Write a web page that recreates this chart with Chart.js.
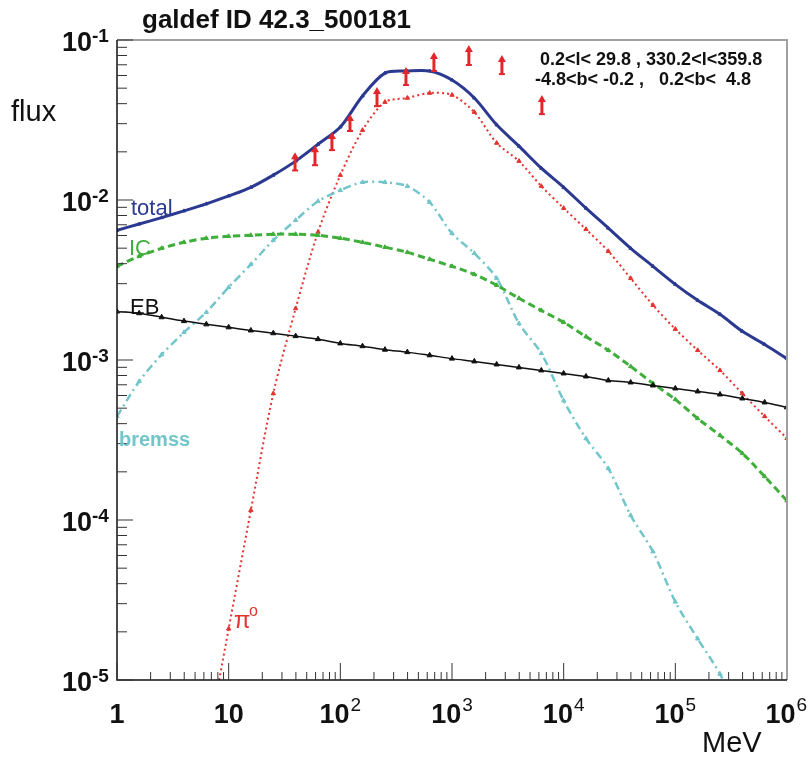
<!DOCTYPE html>
<html>
<head>
<meta charset="utf-8">
<script src="https://cdn.jsdelivr.net/npm/chart.js@4.4.1/dist/chart.umd.min.js"></script>
<style>
  body { margin: 0; background: #fff; }
  canvas { display: block; }
</style>
</head>
<body>
<canvas id="spectre" width="809" height="760"></canvas>
<script>
// energies (MeV), pas de 0.2 decade
var energie = [1, 1.58, 2.51, 3.98, 6.31, 10, 15.8, 25.1, 39.8, 63.1, 100, 158, 251, 398, 631, 1000,
  1585, 2512, 3981, 6310, 10000, 15850, 25120, 39810, 63100, 100000, 158500, 251200, 398100, 631000, 1000000];

var total = [6.47e-3, 7.08e-3, 7.76e-3, 8.55e-3, 9.46e-3, 1.06e-2, 1.20e-2, 1.43e-2, 1.75e-2, 2.23e-2, 2.86e-2,
  4.47e-2, 6.21e-2, 6.40e-2, 6.40e-2, 5.62e-2, 4.34e-2, 2.95e-2, 2.17e-2, 1.58e-2, 1.20e-2, 8.89e-3, 6.67e-3,
  4.99e-3, 3.85e-3, 2.97e-3, 2.36e-3, 1.93e-3, 1.51e-3, 1.25e-3, 1.02e-3];

var pion = [null, null, null, null, 3.7e-6, 2.09e-5, 1.15e-4, 6.18e-4, 2.10e-3, 6.3e-3, 1.43e-2, 2.73e-2,
  4.09e-2, 4.34e-2, 4.66e-2, 4.53e-2, 3.54e-2, 2.27e-2, 1.75e-2, 1.22e-2, 8.89e-3, 6.56e-3, 4.78e-3, 3.24e-3,
  2.20e-3, 1.56e-3, 1.15e-3, 8.61e-4, 6.18e-4, 4.44e-4, 3.24e-4];

var ic = [3.85e-3, 4.45e-3, 4.99e-3, 5.44e-3, 5.77e-3, 5.93e-3, 6.02e-3, 6.11e-3, 6.11e-3, 6.02e-3, 5.77e-3,
  5.44e-3, 5.07e-3, 4.71e-3, 4.26e-3, 3.85e-3, 3.43e-3, 2.93e-3, 2.43e-3, 2.04e-3, 1.72e-3, 1.40e-3, 1.15e-3,
  9.12e-4, 7.14e-4, 5.67e-4, 4.31e-4, 3.38e-4, 2.61e-4, 1.87e-4, 1.32e-4];

var eb = [2.01e-3, 1.96e-3, 1.85e-3, 1.75e-3, 1.67e-3, 1.60e-3, 1.53e-3, 1.47e-3, 1.41e-3, 1.35e-3, 1.27e-3,
  1.22e-3, 1.16e-3, 1.12e-3, 1.07e-3, 1.02e-3, 9.80e-4, 9.38e-4, 8.99e-4, 8.61e-4, 8.24e-4, 7.89e-4, 7.45e-4,
  7.24e-4, 6.93e-4, 6.64e-4, 6.36e-4, 6.09e-4, 5.75e-4, 5.43e-4, 5.06e-4];

var bremss = [4.44e-4, 7.35e-4, 1.08e-3, 1.49e-3, 1.99e-3, 2.85e-3, 3.96e-3, 5.60e-3, 7.48e-3, 9.82e-3, 1.15e-2,
  1.29e-2, 1.29e-2, 1.22e-2, 9.68e-3, 6.19e-3, 4.65e-3, 3.24e-3, 1.69e-3, 1.10e-3, 5.58e-4, 3.23e-4, 2.10e-4,
  1.07e-4, 6.34e-5, 3.08e-5, 1.81e-5, 1.09e-5, 5.6e-6, null, null];

// points de donnees (barres d'erreur)
var errE = [39.3, 59.3, 84.1, 122, 213, 387, 689, 1416, 2799, 6383];
var errBas = [1.53e-2, 1.65e-2, 2.05e-2, 2.70e-2, 3.86e-2, 5.23e-2, 6.40e-2, 6.98e-2, 6.12e-2, 3.44e-2];
var errHaut = [1.96e-2, 2.17e-2, 2.62e-2, 3.40e-2, 5.01e-2, 6.68e-2, 8.30e-2, 9.17e-2, 7.94e-2, 4.47e-2];

// graduations
var xTicks = [1, 10, 100, 1e3, 1e4, 1e5, 1e6];
var xTickBase = ["1", "10", "10", "10", "10", "10", "10"];
var xTickExp = ["", "", "2", "3", "4", "5", "6"];
var yTicks = [1e-1, 1e-2, 1e-3, 1e-4, 1e-5];
var yTickExp = ["-1", "-2", "-3", "-4", "-5"];

function serie(valeurs) {
  return energie.map(function(e, i) { return { x: e, y: valeurs[i] }; });
}

function courbe(label, valeurs, couleur, largeur, tirets, rayon) {
  return {
    label: label,
    data: serie(valeurs),
    borderColor: couleur,
    backgroundColor: couleur,
    borderWidth: largeur,
    borderDash: tirets,
    pointStyle: "triangle",
    pointRadius: rayon,
    pointBorderWidth: 1,
    pointBorderColor: couleur,
    pointBackgroundColor: couleur,
    tension: 0.3,
    spanGaps: false,
    fill: false
  };
}

var police = "'Liberation Sans', Arial, sans-serif";

var cadreRoot = {
  id: "cadreRoot",
  afterDraw: function(chart) {
    var ctx = chart.ctx;
    var a = chart.chartArea;
    var sx = chart.scales.x, sy = chart.scales.y;
    ctx.save();

    // cadre gris haut et droite
    ctx.strokeStyle = "#a0a0a0";
    ctx.lineWidth = 2;
    ctx.beginPath();
    ctx.moveTo(a.left, a.top);
    ctx.lineTo(a.right, a.top);
    ctx.lineTo(a.right, a.bottom);
    ctx.stroke();

    // axes noirs
    ctx.strokeStyle = "#111";
    ctx.lineWidth = 1.5;
    ctx.beginPath();
    ctx.moveTo(a.left, a.top);
    ctx.lineTo(a.left, a.bottom);
    ctx.lineTo(a.right, a.bottom);
    ctx.stroke();

    // petites graduations internes
    ctx.lineWidth = 1;
    ctx.strokeStyle = "#333";
    for (var d = 0; d < 6; d++) {
      for (var m = 1; m <= 9; m++) {
        var px = sx.getPixelForValue(m * Math.pow(10, d));
        var h = m === 1 ? 17 : 8;
        ctx.beginPath();
        ctx.moveTo(px, a.bottom);
        ctx.lineTo(px, a.bottom - h);
        ctx.stroke();
      }
    }
    for (var d2 = -5; d2 <= -1; d2++) {
      for (var m2 = 1; m2 <= 9; m2++) {
        var v = m2 * Math.pow(10, d2);
        if (v > 0.1000001) continue;
        var py = sy.getPixelForValue(v);
        var w = m2 === 1 ? 16 : 10;
        ctx.beginPath();
        ctx.moveTo(a.left, py);
        ctx.lineTo(a.left + w, py);
        ctx.stroke();
      }
    }

    // etiquettes axe x (centrees avec l'exposant)
    ctx.fillStyle = "#111";
    ctx.textBaseline = "alphabetic";
    ctx.textAlign = "left";
    xTicks.forEach(function(t, i) {
      var px = sx.getPixelForValue(t);
      ctx.font = "bold 27px " + police;
      var wb = ctx.measureText(xTickBase[i]).width;
      ctx.font = "19px " + police;
      var we = xTickExp[i] ? ctx.measureText(xTickExp[i]).width + 1 : 0;
      var x0 = px - (wb + we) / 2;
      if (x0 + wb + we > 807) x0 = 807 - wb - we;
      ctx.font = "bold 27px " + police;
      ctx.fillText(xTickBase[i], x0, 723);
      if (xTickExp[i]) {
        ctx.font = "19px " + police;
        ctx.fillText(xTickExp[i], x0 + wb + 1, 711);
      }
    });

    // etiquettes axe y
    yTicks.forEach(function(t, i) {
      var py = sy.getPixelForValue(t);
      ctx.font = "bold 19px " + police;
      ctx.textAlign = "left";
      ctx.fillText(yTickExp[i], 92, py + 2);
      ctx.font = "bold 27px " + police;
      ctx.textAlign = "right";
      ctx.fillText("10", 92, py + 11);
    });

    // titres
    ctx.textAlign = "left";
    ctx.font = "bold 26px " + police;
    ctx.fillText("galdef ID 42.3_500181", 142, 28);
    ctx.font = "29px " + police;
    ctx.fillText("flux", 11, 121);
    ctx.fillText("MeV", 702, 752);

    // legende regions
    ctx.font = "bold 18px " + police;
    ctx.fillText("0.2<l< 29.8 , 330.2<l<359.8", 540, 65);
    ctx.fillText("-4.8<b< -0.2 ,   0.2<b<  4.8", 535, 85);

    // noms des composantes
    ctx.font = "22px " + police;
    ctx.fillStyle = "#2b3990";
    ctx.fillText("total", 131, 215);
    ctx.fillStyle = "#3fae3a";
    ctx.fillText("IC", 129, 255);
    ctx.fillStyle = "#111";
    ctx.fillText("EB", 130, 314);
    ctx.font = "bold 20px " + police;
    ctx.fillStyle = "#72c6c9";
    ctx.fillText("bremss", 119, 446);
    ctx.font = "24px " + police;
    ctx.fillStyle = "#e3342f";
    ctx.fillText("\u03c0", 234, 628);
    ctx.font = "16px " + police;
    ctx.fillText("o", 249, 616);

    // barres d'erreur avec fleche
    ctx.strokeStyle = "#e3262b";
    ctx.fillStyle = "#e3262b";
    errE.forEach(function(e, i) {
      var px = sx.getPixelForValue(e);
      var yb = sy.getPixelForValue(errBas[i]);
      var yh = sy.getPixelForValue(errHaut[i]);
      ctx.lineWidth = 3;
      ctx.beginPath();
      ctx.moveTo(px, yb);
      ctx.lineTo(px, yh + 4);
      ctx.stroke();
      ctx.lineWidth = 2;
      ctx.beginPath();
      ctx.moveTo(px - 3, yb);
      ctx.lineTo(px + 3, yb);
      ctx.stroke();
      ctx.beginPath();
      ctx.moveTo(px, yh - 1);
      ctx.lineTo(px - 4, yh + 6);
      ctx.lineTo(px + 4, yh + 6);
      ctx.closePath();
      ctx.fill();
    });
    ctx.restore();
  }
};

var ctx = document.getElementById("spectre").getContext("2d");
var spectre = new Chart(ctx, {
  type: "line",
  data: {
    datasets: [
      courbe("EB", eb, "#111111", 1.5, [], 3),
      courbe("IC", ic, "#3fae3a", 3, [7, 4], 2.5),
      courbe("bremss", bremss, "#72c6c9", 2.5, [8, 4, 2, 4], 2.5),
      courbe("pi0", pion, "#e3342f", 2, [2, 3], 2.5),
      courbe("total", total, "#2b3990", 3, [], 2)
    ]
  },
  options: {
    responsive: false,
    devicePixelRatio: 1,
    animation: false,
    layout: { padding: { top: 40, right: 22, left: 0, bottom: 0 } },
    plugins: {
      legend: { display: false },
      tooltip: { enabled: false },
      title: { display: false }
    },
    scales: {
      x: {
        type: "logarithmic",
        min: 1,
        max: 1e6,
        grid: { display: false, drawTicks: false },
        border: { display: false },
        ticks: { display: false },
        afterFit: function(scale) { scale.height = 80; }
      },
      y: {
        type: "logarithmic",
        min: 1e-5,
        max: 1e-1,
        grid: { display: false, drawTicks: false },
        border: { display: false },
        ticks: { display: false },
        afterFit: function(scale) { scale.width = 117; }
      }
    }
  },
  plugins: [cadreRoot]
});
</script>
</body>
</html>
